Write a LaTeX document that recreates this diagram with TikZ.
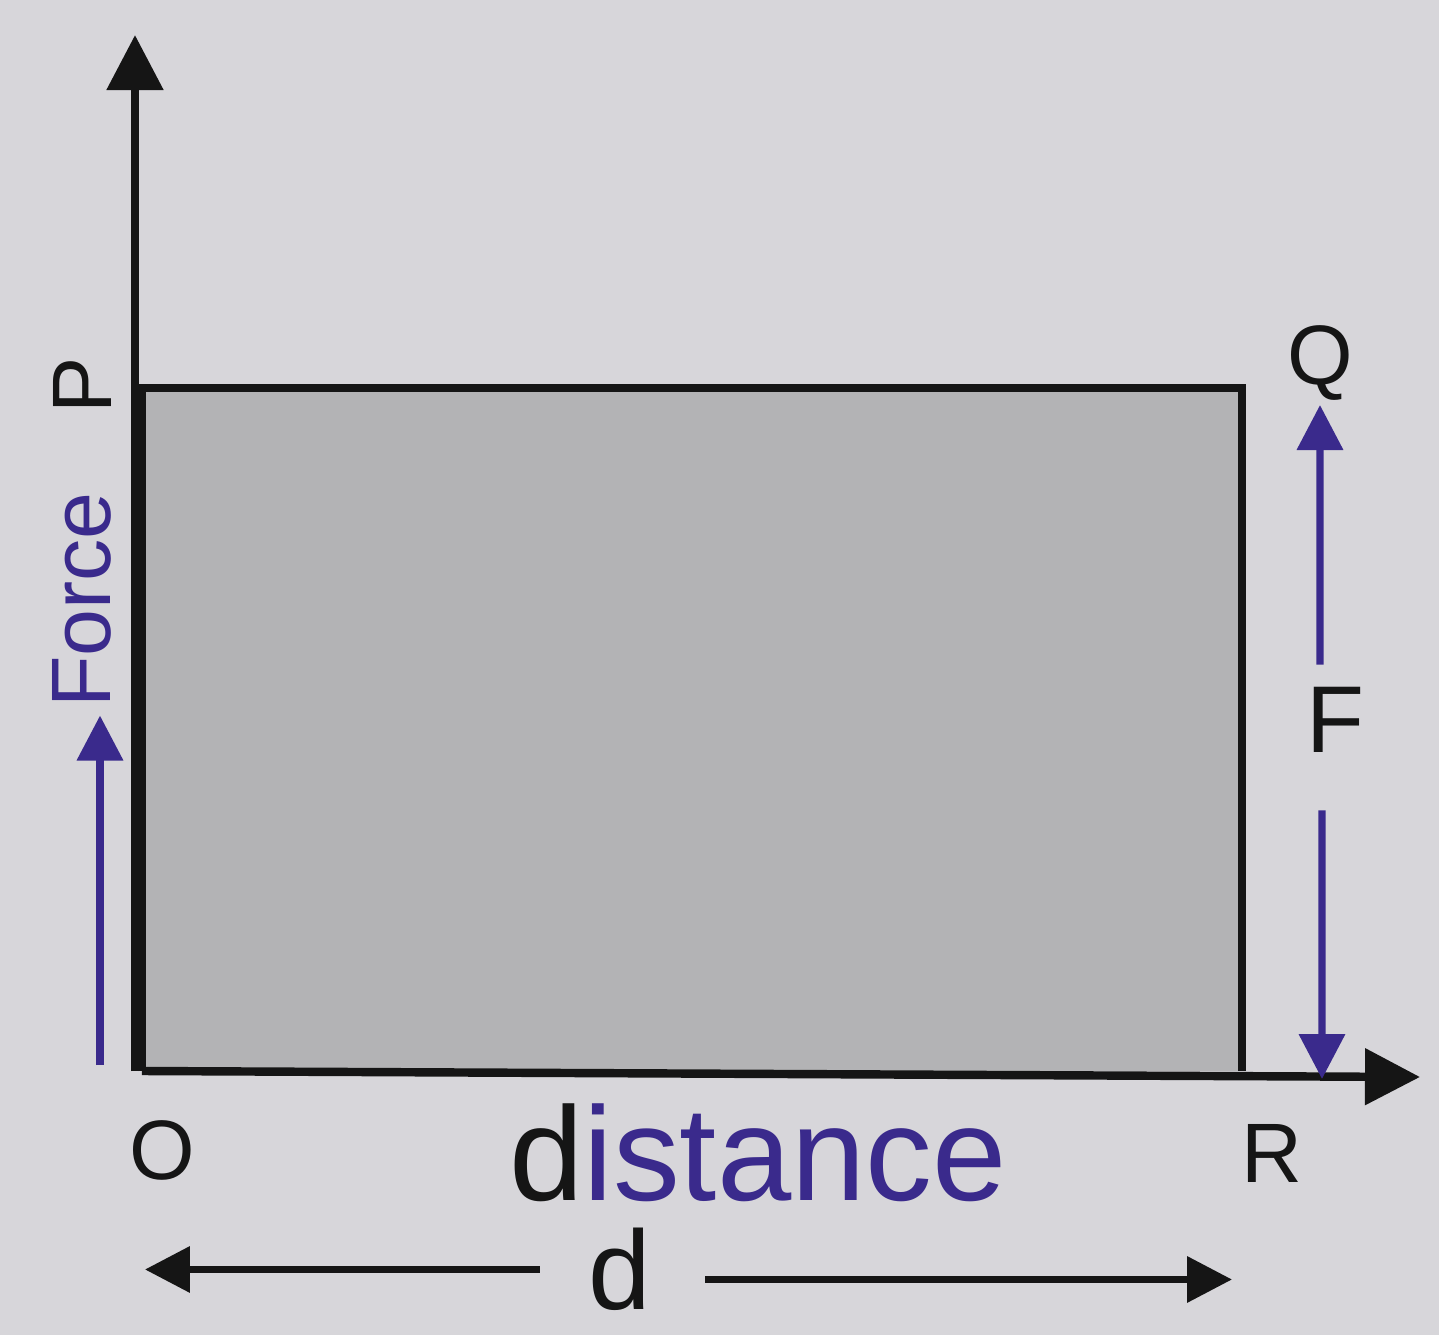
\documentclass[tikz,border=0pt]{standalone}
\usepackage{fontspec}
\setmainfont{Liberation Sans}
\usetikzlibrary{arrows.meta, positioning, calc}
\definecolor{PaperGray}{HTML}{D7D6DA}
\definecolor{ShadeGray}{HTML}{B3B3B5}
\definecolor{InkBlack}{HTML}{151515}
\definecolor{InkPurple}{HTML}{3A2A8C}
\tikzset{
    axis/.style={
        -{Triangle[length=5.5mm,width=5.5mm]},
        line width=2.4pt,
        InkBlack
    },
    arrow/.style={
        -{Triangle[length=4.5mm,width=4.5mm]},
        line width=2pt,
        #1
    },
    arrow/.default=InkPurple,
    lbl/.style={
        font=\fontsize{24}{28}\selectfont,
        text=InkBlack,
        inner sep=2pt
    },
    bluelbl/.style={
        font=\fontsize{24}{28}\selectfont,
        text=InkPurple,
        inner sep=2pt
    }
}
\begin{document}
\begin{tikzpicture}
    % paper
    \fill[PaperGray] (0,0) rectangle (14.39,13.35);
    \useasboundingbox (0,0) rectangle (14.39,13.35);

    % corners of the work area
    \coordinate (O) at (1.42,2.64);
    \coordinate (P) at (1.42,9.47);
    \coordinate (Q) at (12.42,9.47);
    \coordinate (R) at (12.42,2.64);
    \coordinate (ytip) at (1.35,13.0);
    \coordinate (xtip) at (14.2,2.58);

    % shaded area
    \filldraw[fill=ShadeGray, draw=InkBlack, line width=2.4pt] (O) -- (P) -- (Q) -- (R);

    % axes
    \draw[axis] (1.35,2.64) -- (ytip);
    \draw[axis] (O) -- (xtip);

    % corner labels
    \node[lbl] (labO) at (1.62,1.85) {O};
    \node[lbl] (labR) at (12.72,1.82) {R};
    \node[lbl] (labQ) at (13.2,9.72) {Q};
    \node[lbl, rotate=90] (labP) at (0.82,9.5) {P};

    % force along y
    \node[bluelbl, rotate=90] (force) at (0.82,7.35) {Force};
    \coordinate (forceBase) at (1.0,2.7);
    \draw[arrow] (forceBase) -- (forceBase |- force.west);

    % F between Q and R
    \node[lbl, font=\fontsize{27}{30}\selectfont] (F) at (13.35,6.15) {F};
    \coordinate (Ftop) at (13.2,9.3);
    \coordinate (Fbot) at (13.22,2.56);
    \draw[arrow] ($(F.north)+(-0.15,0.15)$) -- (Ftop);
    \draw[arrow] ($(F.south)+(-0.13,-0.5)$) -- (Fbot);

    % distance
    \node[font=\fontsize{38}{42}\selectfont, inner sep=1pt] (dist) at (7.58,1.82)
        {\textcolor{InkBlack}{d}\textcolor{InkPurple}{istance}};

    % d between O and R
    \node[lbl, font=\fontsize{32}{36}\selectfont, inner sep=1pt, anchor=south] (dlab) at (6.2,0.2) {d};
    \coordinate (dleft) at ($(dlab.west -| O)+(0.03,0)$);
    \coordinate (dright) at ($(dlab.east -| R)+(-0.1,-0.1)$);
    \draw[arrow=InkBlack] ($(dlab.west)+(-0.45,0)$) -- (dleft);
    \draw[arrow=InkBlack] ($(dlab.east)+(0.5,-0.1)$) -- (dright);
\end{tikzpicture}
\end{document}
